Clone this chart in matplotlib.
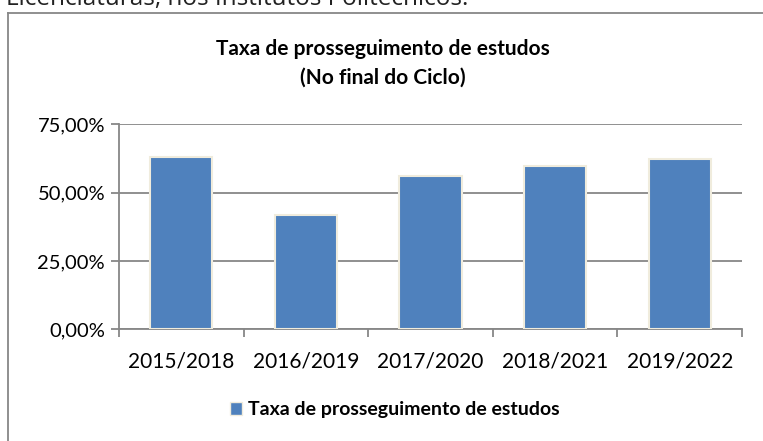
import matplotlib
matplotlib.use('Agg')
import numpy as np
from matplotlib import pyplot as plt
from matplotlib.lines import Line2D

plt.rcParams['font.family'] = ['Lato', 'DejaVu Sans']

categorias = ['2015/2018', '2016/2019', '2017/2020', '2018/2021', '2019/2022']
taxa = [63.0, 41.9, 56.1, 59.8, 62.3]
yticks = [0, 25, 50, 75]
ytick_labels = ['0,00%', '25,00%', '50,00%', '75,00%']
serie = 'Taxa de prosseguimento de estudos'

W, H = 763, 441
fig = plt.figure(figsize=(W / 100, H / 100), dpi=100)
fig.patch.set_facecolor('white')

# caixa do grafico (so se vem a esquerda e em cima)
grey = '#878787'
fig.add_artist(Line2D([8 / W, 8 / W], [0, 1 - 13 / H], color=grey, lw=1.3, transform=fig.transFigure))
fig.add_artist(Line2D([8 / W, 1], [1 - 13 / H, 1 - 13 / H], color=grey, lw=1.3, transform=fig.transFigure))

# texto cortado no topo da pagina
fig.text(6 / W, 1 - 5 / H, 'Licenciaturas, nos Institutos Politécnicos:', fontsize=17.5,
         family=['Open Sans', 'DejaVu Sans'], va='baseline', ha='left', color='#222222')

x0, x1 = 119, 742
y0, y1 = 329.3, 124.3
ax = fig.add_axes([x0 / W, 1 - y0 / H, (x1 - x0) / W, (y0 - y1) / H])

x = np.arange(len(categorias))
ax.bar(x, taxa, width=0.5, color='#4F81BD', edgecolor='#F0ECDD', linewidth=1.5, zorder=3)

ax.set_xlim(-0.5, len(categorias) - 0.5)
ax.set_ylim(0, 75)
ax.set_yticks(yticks)
ax.set_yticklabels(ytick_labels, fontsize=14.5)
ax.set_xticks(x)
ax.set_xticklabels(categorias, fontsize=15)
ax.set_xticks(np.arange(len(categorias) + 1) - 0.5, minor=True)
ax.tick_params(axis='x', which='major', length=0, pad=16)
ax.tick_params(axis='x', which='minor', length=6, color=grey, width=1.3)
ax.tick_params(axis='y', length=6, color=grey, width=1.3, pad=4)
ax.yaxis.grid(True, color=grey, linewidth=1.3, zorder=0)
for s in ['top', 'right']:
    ax.spines[s].set_visible(False)
for s in ['left', 'bottom']:
    ax.spines[s].set_color(grey)
    ax.spines[s].set_linewidth(1.3)

fig.text(383 / W, 1 - 49 / H, serie, fontsize=15, fontweight='bold', ha='center', va='center')
fig.text(383 / W, 1 - 78 / H, '(No final do Ciclo)', fontsize=15, fontweight='bold', ha='center', va='center')

h = plt.Rectangle((0, 0), 1, 1, facecolor='#4F81BD', edgecolor='#F0ECDD')
fig.legend([h], [serie], loc='center', bbox_to_anchor=(395 / W, 1 - 410 / H), frameon=False,
           prop={'weight': 'bold', 'size': 14}, handlelength=0.6, handleheight=0.6, handletextpad=0.3)

fig.savefig('out.png', dpi=100)
